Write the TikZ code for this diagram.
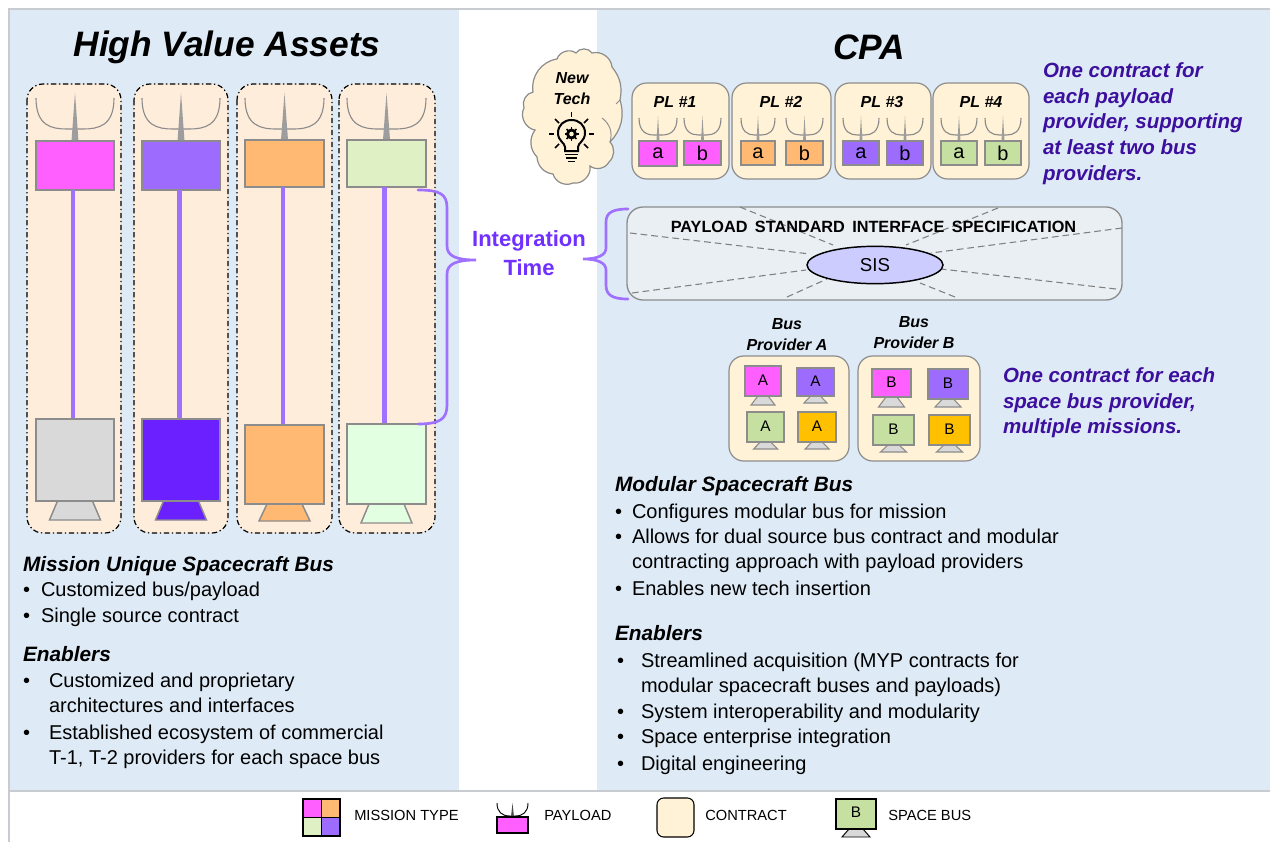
\documentclass[tikz,border=0pt]{standalone}
\usetikzlibrary{shapes.geometric}
\usepackage{fontspec}
\setmainfont{Liberation Sans}
\definecolor{panel}{HTML}{DEEBF7}
\definecolor{contract}{HTML}{FFF2D6}
\definecolor{hvabox}{HTML}{FFEDDC}
\definecolor{mpink}{HTML}{FF5FFF}
\definecolor{mpurple}{HTML}{9D6CFF}
\definecolor{morange}{HTML}{FFB972}
\definecolor{mpalegreen}{HTML}{DFF0C4}
\definecolor{mgreen}{HTML}{C5E0A0}
\definecolor{mamber}{HTML}{FFC000}
\definecolor{bgray}{HTML}{D9D9D9}
\definecolor{bviolet}{HTML}{6A20FF}
\definecolor{bmint}{HTML}{E2FFE2}
\definecolor{edgegray}{HTML}{8C8C8C}
\definecolor{notecol}{HTML}{3D0F9E}
\definecolor{integ}{HTML}{7030FF}
\definecolor{brace}{HTML}{A070FF}
\definecolor{frameline}{HTML}{C8CCD0}
\definecolor{sisbox}{HTML}{EAEFF3}
\definecolor{sisfill}{HTML}{CCCCFF}
\tikzset{
  x=0.75pt,y=-0.75pt,
  solidbox/.style={draw=edgegray,line width=1.1pt},
  dishline/.style={draw=edgegray,line width=0.85pt},
  mastfill/.style={fill=edgegray!85!white,draw=none},
  contractbox/.style={draw=edgegray,fill=contract,line width=0.9pt,rounded corners=11pt},
  hvacol/.style={draw=black,fill=hvabox,line width=0.9pt,dash pattern=on 4pt off 2pt on 1pt off 2pt,rounded corners=12pt},
  rod/.style={draw=brace,line width=3.4pt},
  bracel/.style={draw=brace,line width=2pt,line cap=round},
  spoke/.style={draw=gray,line width=0.8pt,dash pattern=on 5pt off 3pt},
  txt/.style={inner sep=0pt,outer sep=0pt,anchor=mid west,font=\fontsize{15}{18}\selectfont},
  head/.style={inner sep=0pt,outer sep=0pt,anchor=mid west,font=\fontsize{15.6}{18}\selectfont\bfseries\itshape},
  note/.style={inner sep=0pt,outer sep=0pt,anchor=mid west,text=notecol,font=\fontsize{15.4}{18}\selectfont\bfseries\itshape},
  title/.style={inner sep=0pt,font=\fontsize{26.5}{30}\selectfont\bfseries\itshape},
  small/.style={inner sep=0pt,font=\fontsize{12}{15}\selectfont\bfseries\itshape},
  letterlab/.style={inner sep=0pt,font=\fontsize{15}{18}\selectfont},
  monlab/.style={inner sep=0pt,font=\fontsize{11.5}{14}\selectfont},
  legendtxt/.style={inner sep=0pt,anchor=mid west,font=\fontsize{11}{13}\selectfont},
}
% #1 xl, #2 xr, #3 ytop, #4 ybot, #5 yapex, #6 ybase, #7 half mast width
\newcommand{\mydish}[7]{%
  \draw[dishline] (#1,#3) .. controls (#1,{#4-3}) and ({#1+(#2-#1)*0.2},#4) .. ({#1+(#2-#1)*0.4},#4) -- ({#1+(#2-#1)*0.6},#4) .. controls ({#2-(#2-#1)*0.2},#4) and (#2,{#4-3}) .. (#2,#3);
  \fill[mastfill] ({(#1+#2)/2},#5) -- ({(#1+#2)/2+#7},#6) -- ({(#1+#2)/2-#7},#6) -- cycle;
}
% monitor: #1 xl #2 xr #3 yt #4 yb #5 foot bottom y #6 colour #7 letter #8 foot half
\newcommand{\mymon}[8]{%
  \draw[solidbox,fill=bgray,line width=0.8pt] ({(#1+#2)/2-#8*0.42},#4) -- ({(#1+#2)/2+#8*0.42},#4) -- ({(#1+#2)/2+#8},#5) -- ({(#1+#2)/2-#8},#5) -- cycle;
  \draw[solidbox,fill=#6] (#1,#3) rectangle (#2,#4);
  \node[monlab] at ({(#1+#2)/2},{(#3+#4)/2-1}) {#7};
}
% payload pair item: #1 xl #2 xr #3 colour #4 letter #5 yb
\newcommand{\mypl}[5]{%
  \mydish{#1}{#2}{118}{135}{116}{141}{1.5}
  \draw[solidbox,fill=#3] (#1,141) rectangle (#2,#5);
  \node[letterlab] at ({(#1+#2)/2},153) {#4};
}
% HVA column: #1 xl box #2 xr box #3 xl #4 xr #5 payload top #6 payload bottom #7 payload colour #8 rod x #9 bus top
\newcommand{\myhva}[9]{%
  \draw[hvacol] (#1,84) rectangle (#2,533);
  \mydish{#3}{#4}{98}{129}{93}{#5}{3.5}
  \draw[solidbox,fill=#7] (#3,#5) rectangle (#4,#6);
  \draw[rod] (#8,#6) -- (#8,#9);
}
\newcommand{\mybus}[7]{%
  \draw[solidbox,fill=#7] ({(#1+#2)/2-17.5},#4) -- ({(#1+#2)/2+17.5},#4) -- ({(#1+#2)/2+25.5},#5) -- ({(#1+#2)/2-25.5},#5) -- cycle;
  \draw[solidbox,fill=#7] (#1,#3) rectangle (#2,#4);
}
\begin{document}
\begin{tikzpicture}
\useasboundingbox (0,0) rectangle (1270,842);
\fill[white] (0,0) rectangle (1270,842);
\fill[panel] (10,10) rectangle (459,790);
\fill[panel] (597,10) rectangle (1270,790);
\draw[frameline,line width=1pt] (9,842) -- (9,9) -- (1270,9);
\draw[frameline,line width=1.2pt] (9,791) -- (1270,791);

\node[title] (hvatitle) at (227,47) {High Value Assets};
\node[title] (cpatitle) at (869,47) {CPA};

% High value asset columns
\myhva{27}{121}{36}{114}{141}{190}{mpink}{73}{419}
\mybus{36}{114}{419}{501}{520}{0}{bgray}
\myhva{134}{228}{142}{220}{141}{190}{mpurple}{179.5}{419}
\mybus{142}{220}{419}{501}{520}{0}{bviolet}
\myhva{237}{332}{245}{324}{140}{187}{morange}{283}{425}
\mybus{245}{324}{425}{504}{521}{0}{morange}
\myhva{339}{435}{347}{426}{140}{187}{mpalegreen}{384.5}{424}
\mybus{347}{426}{424}{504}{523}{0}{bmint}

% braces
\draw[bracel] (418,190) .. controls (440,190) and (447,194) .. (447,208) -- (447,246) .. controls (447,256) and (456,260) .. (476,260) .. controls (456,260) and (447,264) .. (447,274) -- (447,405) .. controls (447,419) and (440,424) .. (418,424);
\draw[bracel] (628,209) .. controls (612,209) and (606,213) .. (606,222) -- (606,248) .. controls (606,255) and (598,259) .. (583,259) .. controls (598,259) and (606,263) .. (606,270) -- (606,285) .. controls (606,295) and (612,299) .. (628,299);
\node[inner sep=0pt,text=integ,font=\fontsize{16.5}{20}\selectfont\bfseries] (integ1) at (529,241) {Integration};
\node[inner sep=0pt,text=integ,font=\fontsize{16.5}{20}\selectfont\bfseries] (integ2) at (529,268) {Time};

% cloud
\draw[draw=edgegray,fill=contract,line width=0.9pt]
 (533,92) to[bend left=45] (557,59) to[bend left=55] (576,53) to[bend left=60] (592,53) to[bend left=50] (612,67) to[bend left=25] (620,100) to[bend left=30] (610,142) to[bend left=45] (609,162) to[bend left=50] (590,166) to[bend left=55] (573,183) to[bend left=50] (553,174) to[bend left=40] (537,157) to[bend left=40] (535,130) to[bend left=55] (524,108) to[bend left=50] cycle;
\draw[edgegray,line width=0.7pt] (602,118) to[bend left=35] (610,142);
\draw[edgegray,line width=0.7pt] (620,100) to[bend left=15] (616,104);
\node[small] (newtech1) at (572,78) {New};
\node[small] (newtech2) at (572,99) {Tech};
% light bulb
\draw[black,line width=1.5pt] (565,151) -- (565,147) .. controls (565,143) and (558,141) .. (558,133) .. controls (558,125) and (564,120) .. (571.5,120) .. controls (579,120) and (585,125) .. (585,133) .. controls (585,141) and (578,143) .. (578,147) -- (578,151) -- cycle;
\fill[black] (571.5,134) circle (5.5);
\fill[contract] (571.5,134) circle (2.3);
\foreach \a in {0,45,...,315}{\draw[black,line width=1.1pt] ({571.5+4.5*cos(\a)},{134+4.5*sin(\a)}) -- ({571.5+7*cos(\a)},{134+7*sin(\a)});}
\draw[black,line width=1.3pt] (565,154.5) -- (578,154.5);
\draw[black,line width=1.3pt] (566,158) -- (577,158);
\draw[black,line width=1.3pt] (568,161.5) -- (575,161.5);
\draw[black,line width=1.3pt] (571.5,112) -- (571.5,117);
\draw[black,line width=1.3pt] (549,134) -- (554,134);
\draw[black,line width=1.3pt] (589,134) -- (594,134);
\draw[black,line width=1.3pt] (555,119) -- (559,123);
\draw[black,line width=1.3pt] (588,119) -- (584,123);
\draw[black,line width=1.3pt] (555,148) -- (559,144);
\draw[black,line width=1.3pt] (588,148) -- (584,144);

% payload contracts
\draw[contractbox] (632,83) rectangle (729,179);
\draw[contractbox] (732,83) rectangle (831,179);
\draw[contractbox] (835,83) rectangle (931,179);
\draw[contractbox] (933,83) rectangle (1029,179);
\node[small] (pl1) at (675,102) {PL \#1};
\node[small] (pl2) at (781,102) {PL \#2};
\node[small] (pl3) at (882,102) {PL \#3};
\node[small] (pl4) at (981,102) {PL \#4};
\mypl{639}{677}{mpink}{a}{166}
\mypl{684}{721}{mpink}{b}{165}
\mypl{741}{775}{morange}{a}{165}
\mypl{786}{823}{morange}{b}{165}
\mypl{843}{879}{mpurple}{a}{165}
\mypl{887}{923}{mpurple}{b}{165}
\mypl{941}{977}{mgreen}{a}{165}
\mypl{985}{1021}{mgreen}{b}{165}

\node[note] (n1) at (1043,74) {One contract for};
\node[note] (n2) at (1043,100) {each payload};
\node[note] (n3) at (1043,125) {provider, supporting};
\node[note] (n4) at (1043,151) {at least two bus};
\node[note] (n5) at (1043,177) {providers.};

% SIS
\draw[draw=edgegray,fill=sisbox,line width=1pt,rounded corners=12pt] (627,207) rectangle (1122,300);
\coordinate (s1) at (740,207);
\coordinate (s2) at (998,208);
\coordinate (s3) at (630,233);
\coordinate (s4) at (1122,228);
\coordinate (s5) at (632,293);
\coordinate (s6) at (1116,289);
\coordinate (s7) at (787,297);
\coordinate (s8) at (955,297);
\draw[spoke] (s1) -- (833,245);
\draw[spoke] (s2) -- (906,245);
\draw[spoke] (s3) -- (810,254);
\draw[spoke] (s4) -- (931,253);
\draw[spoke] (s5) -- (806,270);
\draw[spoke] (s6) -- (941,269);
\draw[spoke] (s7) -- (827,279);
\draw[spoke] (s8) -- (920,283);
\node[inner sep=0pt,font=\fontsize{12.2}{15}\selectfont\bfseries] (pssi) at (873.5,227) {PAYLOAD\hspace{0.45em}STANDARD\hspace{0.45em}INTERFACE\hspace{0.45em}SPECIFICATION};
\node[ellipse,draw=black,fill=sisfill,line width=1.1pt,minimum width=102pt,minimum height=28pt,inner sep=0pt,font=\fontsize{14}{17}\selectfont] (sis) at (875,265) {SIS};

% bus providers
\node[small] (bpa1) at (787,324) {Bus};
\node[small] (bpa2) at (787,345) {Provider A};
\node[small] (bpb1) at (914,322) {Bus};
\node[small] (bpb2) at (914,343) {Provider B};
\draw[contractbox] (729,356) rectangle (849,461);
\draw[contractbox] (858,356) rectangle (980,461);
\mymon{745}{781}{366}{396}{405}{mpink}{A}{12}
\mymon{797}{834}{368}{396}{403}{mpurple}{A}{11.5}
\mymon{747}{784}{412}{442}{449}{mgreen}{A}{12}
\mymon{798}{836}{412}{442}{449}{mamber}{A}{12}
\mymon{872}{911}{369}{397}{407}{mpink}{B}{13}
\mymon{928}{968}{369}{399}{407}{mpurple}{B}{13}
\mymon{873}{914}{415}{445}{452}{mgreen}{B}{13}
\mymon{929}{970}{415}{445}{452}{mamber}{B}{13}
\node[note] (n6) at (1003,379) {One contract for each};
\node[note] (n7) at (1003,405) {space bus provider,};
\node[note] (n8) at (1003,430) {multiple missions.};

% left text
\node[head] (l0) at (23,568) {Mission Unique Spacecraft Bus};
\node[txt] (l1b) at (23,593) {•};
\node[txt] (l1) at (41,593) {Customized bus/payload};
\node[txt] (l2b) at (23,619) {•};
\node[txt] (l2) at (41,619) {Single source contract};
\node[head] (l3) at (23,658) {Enablers};
\node[txt] (l4b) at (23,684) {•};
\node[txt] (l4) at (49,684) {Customized and proprietary};
\node[txt] (l5) at (49,709) {architectures and interfaces};
\node[txt] (l6b) at (23,736) {•};
\node[txt] (l6) at (49,736) {Established ecosystem of commercial};
\node[txt] (l7) at (49,761) {T-1, T-2 providers for each space bus};

% right text
\node[head] (r0) at (615,488) {Modular Spacecraft Bus};
\node[txt] (r1b) at (615,515) {•};
\node[txt] (r1) at (632,515) {Configures modular bus for mission};
\node[txt] (r2b) at (615,540) {•};
\node[txt] (r2) at (632,540) {Allows for dual source bus contract and modular};
\node[txt] (r3) at (632,565) {contracting approach with payload providers};
\node[txt] (r4b) at (615,592) {•};
\node[txt] (r4) at (632,592) {Enables new tech insertion};
\node[head] (r5) at (615,637) {Enablers};
\node[txt] (r6b) at (617,664) {•};
\node[txt] (r6) at (641,664) {Streamlined acquisition (MYP contracts for};
\node[txt] (r7) at (641,689) {modular spacecraft buses and payloads)};
\node[txt] (r8b) at (617,715) {•};
\node[txt] (r8) at (641,715) {System interoperability and modularity};
\node[txt] (r9b) at (617,740) {•};
\node[txt] (r9) at (641,740) {Space enterprise integration};
\node[txt] (r10b) at (617,767) {•};
\node[txt] (r10) at (641,767) {Digital engineering};

% legend
\fill[mpink] (303,799) rectangle (321,817);
\fill[morange] (321,799) rectangle (340,817);
\fill[mpalegreen] (303,817) rectangle (321,836);
\fill[mpurple] (321,817) rectangle (340,836);
\draw[black,line width=0.8pt] (303,799) rectangle (340,836) (321.5,799) -- (321.5,836) (303,817.5) -- (340,817.5);
\node[legendtxt] (lg1) at (354,817) {MISSION TYPE};
\draw[black,line width=0.7pt] (497,803) .. controls (497,812) and (502,816) .. (510,816) -- (515,816) .. controls (523,816) and (528,812) .. (528,803);
\fill[black!70] (512.5,803) -- (514,817) -- (511,817) -- cycle;
\draw[black,fill=mpink,line width=0.8pt] (497,817) rectangle (528,833);
\node[legendtxt] (lg2) at (544,817) {PAYLOAD};
\draw[black,fill=contract,line width=0.8pt,rounded corners=5pt] (657,798) rectangle (694,837);
\node[legendtxt] (lg3) at (705,817) {CONTRACT};
\draw[black,fill=bgray,line width=0.7pt] (849,829) -- (863,829) -- (870,837) -- (842,837) -- cycle;
\draw[black,fill=mgreen,line width=0.8pt] (836,799) rectangle (876,829);
\node[monlab] (lgb) at (856,812) {B};
\node[legendtxt] (lg4) at (888,817) {SPACE BUS};
\end{tikzpicture}
\end{document}
